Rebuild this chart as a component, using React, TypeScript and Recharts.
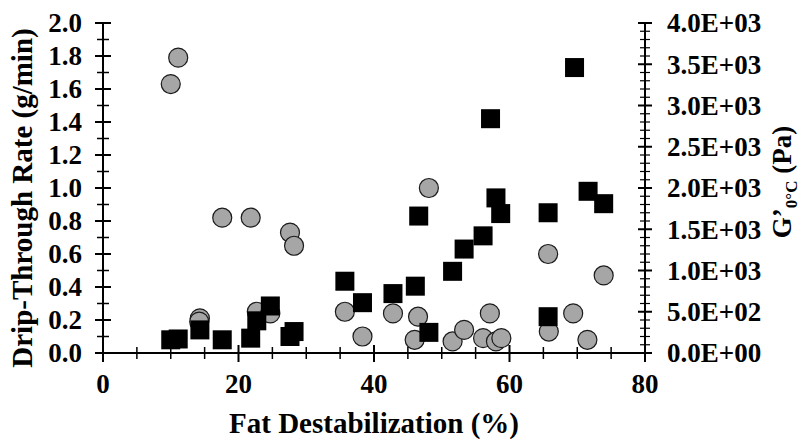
import { ScatterChart, Scatter, XAxis, YAxis } from "recharts";

// drip-through rate (circles, left axis)
const dripFat = [10.0, 11.1, 14.3, 14.2, 17.6, 21.8, 22.7, 24.7, 27.6, 28.2, 35.7, 38.3, 42.8, 46.0, 46.5, 48.1, 51.6, 53.3, 56.1, 57.1, 58.0, 58.8, 65.7, 65.8, 69.4, 71.5, 73.9];
const dripRate = [1.63, 1.79, 0.21, 0.19, 0.82, 0.82, 0.25, 0.24, 0.73, 0.65, 0.25, 0.10, 0.24, 0.08, 0.22, 1.00, 0.07, 0.14, 0.09, 0.24, 0.07, 0.09, 0.60, 0.13, 0.24, 0.08, 0.47];

// G' at 0 C (squares, right axis)
const gFat = [10.0, 11.1, 14.3, 17.6, 21.8, 22.7, 24.7, 27.6, 28.2, 35.7, 38.3, 42.8, 46.1, 46.6, 48.1, 51.6, 53.3, 56.1, 57.2, 58.0, 58.7, 65.7, 65.7, 69.6, 71.6, 73.9];
const gModulus = [160, 170, 280, 160, 180, 390, 570, 200, 260, 870, 610, 720, 810, 1660, 250, 990, 1260, 1420, 2840, 1880, 1690, 1700, 440, 3460, 1960, 1810];

const xTicks = [0, 5, 10, 15, 20, 25, 30, 35, 40, 45, 50, 55, 60, 65, 70, 75, 80];
const leftTicks = [0, 0.1, 0.2, 0.3, 0.4, 0.5, 0.6, 0.7, 0.8, 0.9, 1.0, 1.1, 1.2, 1.3, 1.4, 1.5, 1.6, 1.7, 1.8, 1.9, 2.0];
const rightTicks = Array.from({ length: 41 }, (_, i) => i * 100);

const dripData = dripFat.map((x, i) => ({ x, y: dripRate[i] }));
const gData = gFat.map((x, i) => ({ x, y: gModulus[i] }));

const font = "Liberation Serif";
const tickFont = 27;
const titleFont = 29;

function sci(v: number) {
  if (v === 0) return "0.0E+00";
  const e = Math.floor(Math.log10(v));
  const m = v / Math.pow(10, e);
  return `${m.toFixed(1)}E+${String(e).padStart(2, "0")}`;
}

const LeftTick = (props: any) => {
  const { x, y, payload } = props;
  const v = payload.value;
  const major = Math.round(v * 10) % 2 === 0;
  const h = major ? 8 : 6;
  return (
    <g>
      <line x1={x - h} x2={x + h} y1={y} y2={y} stroke="#000" strokeWidth={major ? 2 : 1.5} />
      {major && (
        <text x={x - 21} y={y} dy="0.35em" textAnchor="end" fontFamily={font} fontWeight="bold" fontSize={tickFont} fill="#000">
          {v.toFixed(1)}
        </text>
      )}
    </g>
  );
};

const RightTick = (props: any) => {
  const { x, y, payload } = props;
  const v = payload.value;
  const major = v % 500 === 0;
  const h = major ? 7 : 5;
  return (
    <g>
      <line x1={x - h} x2={x + h} y1={y} y2={y} stroke="#000" strokeWidth={major ? 2 : 1.2} />
      {major && (
        <text x={x + 22} y={y} dy="0.35em" textAnchor="start" fontFamily={font} fontWeight="bold" fontSize={tickFont} fill="#000">
          {sci(v)}
        </text>
      )}
    </g>
  );
};

const BottomTick = (props: any) => {
  const { x, y, payload } = props;
  const v = payload.value;
  const major = v % 20 === 0;
  return (
    <g>
      <line x1={x} x2={x} y1={y - (major ? 8 : 6)} y2={y + (major ? 9 : 6)} stroke="#000" strokeWidth={major ? 2 : 1.5} />
      {major && (
        <text x={x} y={y + 40} textAnchor="middle" fontFamily={font} fontWeight="bold" fontSize={tickFont} fill="#000">
          {v}
        </text>
      )}
    </g>
  );
};

const Circle = (props: any) => (
  <circle cx={props.cx} cy={props.cy} r={9.5} fill="#A6A6A6" stroke="#1a1a1a" strokeWidth={1.2} />
);

const Square = (props: any) => (
  <rect x={props.cx - 9.5} y={props.cy - 9.5} width={19} height={19} fill="#000" />
);

export default function App() {
  return (
    <div style={{ position: "absolute", left: 0, top: 0, width: 800, height: 440, background: "#fff" }}>
      <ScatterChart width={800} height={440} margin={{ top: 23, right: 0, bottom: 0, left: 0 }}>
        <XAxis
          type="number"
          dataKey="x"
          domain={[0, 80]}
          ticks={xTicks}
          interval={0}
          height={87}
          tickSize={0}
          tickMargin={0}
          tickLine={false}
          axisLine={{ stroke: "#000", strokeWidth: 2 }}
          tick={<BottomTick />}
        />
        <YAxis
          yAxisId="left"
          type="number"
          dataKey="y"
          domain={[0, 2]}
          ticks={leftTicks}
          interval={0}
          width={103}
          tickSize={0}
          tickMargin={0}
          tickLine={false}
          axisLine={{ stroke: "#000", strokeWidth: 2 }}
          tick={<LeftTick />}
        />
        <YAxis
          yAxisId="right"
          orientation="right"
          type="number"
          dataKey="y"
          domain={[0, 4000]}
          ticks={rightTicks}
          interval={0}
          width={155}
          tickSize={0}
          tickMargin={0}
          tickLine={false}
          axisLine={{ stroke: "#000", strokeWidth: 2 }}
          tick={<RightTick />}
        />
        <Scatter yAxisId="left" data={dripData} shape={<Circle />} isAnimationActive={false} />
        <Scatter yAxisId="right" data={gData} shape={<Square />} isAnimationActive={false} />
      </ScatterChart>
      <svg width={800} height={440} style={{ position: "absolute", left: 0, top: 0, pointerEvents: "none" }}>
        <text x={374} y={433} textAnchor="middle" fontFamily={font} fontWeight="bold" fontSize={titleFont} fill="#000">
          Fat Destabilization (%)
        </text>
        <text x={32} y={198} transform="rotate(-90 32 198)" textAnchor="middle" fontFamily={font} fontWeight="bold" fontSize={titleFont} fill="#000">
          Drip-Through Rate (g/min)
        </text>
        <text x={791} y={182} transform="rotate(-90 791 182)" textAnchor="middle" fontFamily={font} fontWeight="bold" fontSize={27} fill="#000">
          <tspan>G’</tspan>
          <tspan fontSize={17} dy={6}>0°C</tspan>
          <tspan dy={-6}> (Pa)</tspan>
        </text>
      </svg>
    </div>
  );
}
